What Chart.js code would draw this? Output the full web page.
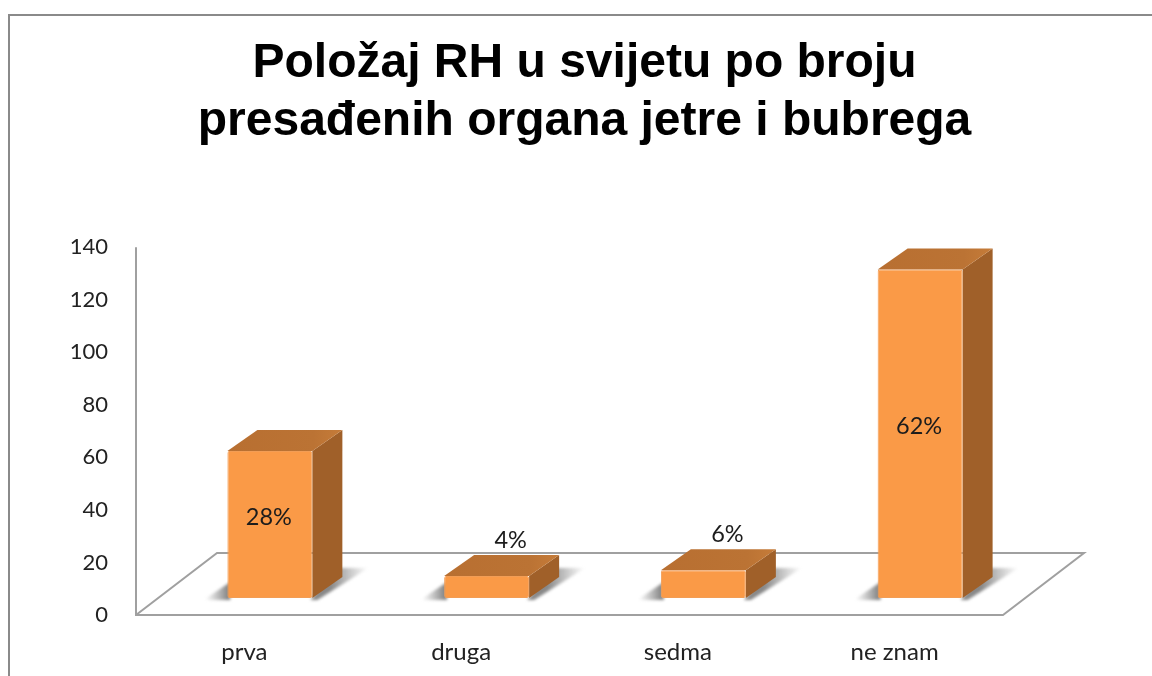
<!DOCTYPE html>
<html><head><meta charset="utf-8">
<style>html,body{margin:0;padding:0;background:#fff;overflow:hidden}#w{position:relative;width:1152px;height:676px}canvas{display:block;filter:blur(0.5px)}</style>
<script src="https://cdn.jsdelivr.net/npm/chart.js@4"></script>
</head><body><div id="w"><canvas id="c" width="1152" height="676"></canvas></div>
<script>
const categories = ['prva', 'druga', 'sedma', 'ne znam'];
const values = [56, 8.4, 10.6, 125];
const percents = ['28%', '4%', '6%', '62%'];
const titleLines = ['Položaj RH u svijetu po broju', 'presađenih organa jetre i bubrega'];
const yTicks = [0, 20, 40, 60, 80, 100, 120, 140];

const FLOOR = {dx: 81, dy: -62};
const SHIFT = {dx: 25.5, dy: -17};
const DEPTH = {dx: 30, dy: -21};
const LABEL_FONT = '"Lato", "Open Sans", sans-serif';

const frame = {
  id: 'frame',
  beforeDraw(chart) {
    const c = chart.ctx;
    c.save();
    c.fillStyle = '#fff';
    c.fillRect(0, 0, chart.width, chart.height);
    c.strokeStyle = '#8a8a8a';
    c.lineWidth = 2;
    c.beginPath();
    c.moveTo(9, chart.height + 2);
    c.lineTo(9, 15);
    c.lineTo(chart.width + 2, 15);
    c.stroke();
    c.restore();
  },
  afterLayout(chart) {
    chart.titleBlock.left += 83;
    chart.titleBlock.right += 83;
  }
};

const floor3d = {
  id: 'floor3d',
  beforeDatasetsDraw(chart) {
    const c = chart.ctx, x = chart.scales.x, y = chart.scales.y;
    const y0 = y.getPixelForValue(0), L = x.left, R = x.right;
    c.save();
    c.strokeStyle = '#a0a0a0';
    c.lineWidth = 2;
    c.lineJoin = 'miter';
    c.beginPath();
    c.moveTo(L, y.top);
    c.lineTo(L, y0);
    c.lineTo(R, y0);
    c.lineTo(R + FLOOR.dx, y0 + FLOOR.dy);
    c.lineTo(L + FLOOR.dx, y0 + FLOOR.dy);
    c.lineTo(L, y0);
    c.stroke();
    c.restore();

    // soft floor shadows
    const meta = chart.getDatasetMeta(0);
    meta.data.forEach(b => {
      const l = b.x - b.width / 2 + SHIFT.dx, r = b.x + b.width / 2 + SHIFT.dx, bot = b.base + SHIFT.dy;
      c.save();
      c.filter = 'blur(1.5px)';
      let g = c.createLinearGradient(l - 22, 0, l, 0);
      g.addColorStop(0, 'rgba(140,140,140,0)');
      g.addColorStop(1, 'rgba(130,130,130,0.95)');
      c.fillStyle = g;
      c.beginPath();
      c.moveTo(l - 24, bot + 2);
      c.lineTo(l + 3, bot + 2);
      c.lineTo(l + 3, bot - 16);
      c.closePath();
      c.fill();
      g = c.createLinearGradient(r + 18, 0, r + 56, 0);
      g.addColorStop(0, 'rgba(130,130,130,0.95)');
      g.addColorStop(1, 'rgba(140,140,140,0)');
      c.fillStyle = g;
      c.beginPath();
      c.moveTo(r - 2, bot + 2);
      c.lineTo(r + 5, bot + 2);
      c.lineTo(r + 56, bot - 30);
      c.lineTo(r + 26, bot - 30);
      c.closePath();
      c.fill();
      c.restore();
    });

    // bar sides and tops, then shift the bars themselves onto the floor
    meta.data.forEach(b => {
      const l = b.x - b.width / 2 + SHIFT.dx, r = b.x + b.width / 2 + SHIFT.dx;
      const t = b.y + SHIFT.dy, bot = b.base + SHIFT.dy;
      c.save();
      c.fillStyle = '#a06029';
      c.beginPath();
      c.moveTo(r, t);
      c.lineTo(r + DEPTH.dx, t + DEPTH.dy);
      c.lineTo(r + DEPTH.dx, bot + DEPTH.dy);
      c.lineTo(r, bot);
      c.closePath();
      c.fill();
      const g = c.createLinearGradient(l, 0, r + DEPTH.dx, 0);
      g.addColorStop(0, '#b86f31');
      g.addColorStop(0.75, '#bb7334');
      g.addColorStop(1, '#c67c39');
      c.fillStyle = g;
      c.beginPath();
      c.moveTo(l, t);
      c.lineTo(l + DEPTH.dx, t + DEPTH.dy);
      c.lineTo(r + DEPTH.dx, t + DEPTH.dy);
      c.lineTo(r, t);
      c.closePath();
      c.fill();
      c.restore();
    });
    c.save();
    c.translate(SHIFT.dx, SHIFT.dy);
  },
  afterDatasetsDraw(chart) {
    const c = chart.ctx;
    c.restore();
    const meta = chart.getDatasetMeta(0);
    c.save();
    c.font = '23.5px ' + LABEL_FONT;
    c.fillStyle = '#1c1c1c';
    c.textAlign = 'center';
    c.textBaseline = 'middle';
    meta.data.forEach((b, i) => {
      const h = b.base - b.y;
      if (h > 60) {
        c.fillText(percents[i], b.x + SHIFT.dx - 1, (b.y + b.base) / 2 + SHIFT.dy - 7);
      } else {
        c.fillText(percents[i], b.x + SHIFT.dx + 24, b.y + SHIFT.dy + DEPTH.dy - 15);
      }
    });
    c.restore();
  }
};

new Chart(document.getElementById('c'), {
  type: 'bar',
  data: {
    labels: categories,
    datasets: [{
      data: values,
      backgroundColor: '#fa9a47',
      borderColor: '#f29d55',
      borderWidth: 1,
      borderRadius: 2,
      borderSkipped: false,
      categoryPercentage: 1,
      barPercentage: 0.392
    }]
  },
  plugins: [frame, floor3d],
  options: {
    responsive: false,
    animation: false,
    layout: {padding: {left: 0, right: 149, top: 0, bottom: 0}},
    plugins: {
      legend: {display: false},
      tooltip: {enabled: false},
      title: {
        display: true,
        text: titleLines,
        color: '#000',
        font: {family: '"Liberation Sans", Arial, sans-serif', size: 48, weight: 'bold', lineHeight: 1.2},
        padding: {top: 35, bottom: 97}
      }
    },
    scales: {
      x: {
        grid: {display: false, drawTicks: false},
        border: {display: false},
        ticks: {color: '#222', font: {family: LABEL_FONT, size: 24}, padding: 23, maxRotation: 0},
        afterFit(s) { s.height = 61; }
      },
      y: {
        min: 0,
        max: 140,
        afterBuildTicks(s) { s.ticks = yTicks.map(v => ({value: v})); },
        grid: {display: false, drawTicks: false},
        border: {display: false},
        ticks: {color: '#222', font: {family: LABEL_FONT, size: 22}, padding: 28},
        afterFit(s) { s.width = 136; }
      }
    }
  }
});
</script></body></html>
